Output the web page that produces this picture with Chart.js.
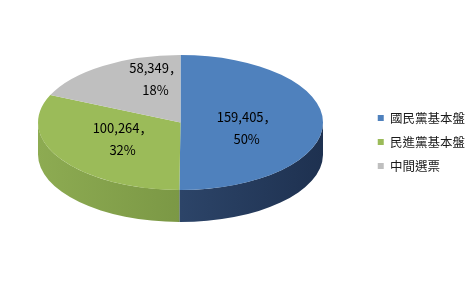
<!DOCTYPE html>
<html>
<head>
<meta charset="utf-8">
<script src="https://cdn.jsdelivr.net/npm/chart.js@4/dist/chart.umd.min.js"></script>
<style>
    html, body { margin: 0; padding: 0; background: #ffffff; }
    canvas { display: block; }
</style>
</head>
<body>
<canvas id="voteChart" width="475" height="284"></canvas>
<script>
// Data
const categories = ["國民黨基本盤", "民進黨基本盤", "中間選票"];
const votes = [159405, 100264, 58349];

// Colors: top face, and side wall gradient (left, middle, right of the pie)
const topColors = ["#4f81bd", "#9bbb59", "#bfbfbf"];
const sideColors = [
    ["#3a5a8a", "#2c4468", "#1e3150"], // blue
    ["#8dab52", "#7b9845", "#5d722f"], // green
    ["#a6a6a6", "#8c8c8c", "#7a7a7a"], // gray (hidden at the back)
];

const total = votes.reduce((a, b) => a + b, 0);
const percents = votes.map((v) => Math.round((v / total) * 100));

const LABEL_FONT = '13px "Noto Sans CJK JP", "Noto Sans", sans-serif';

// Fake 3D pie: squash the library's pie into an ellipse and add side walls
const pie3d = {
    id: "pie3d",
    beforeDatasetsDraw(chart, args, opts) {
        const ctx = chart.ctx;
        const arcs = chart.getDatasetMeta(0).data;
        const { cx, cy, rx, ry, depth } = opts;
        // side walls (only the front half is visible)
        arcs.forEach((arc, i) => {
            const s = arc.startAngle;
            const e = arc.endAngle;
            for (let k = -1; k <= 2; k++) {
                const lo = Math.max(s, 2 * Math.PI * k);
                const hi = Math.min(e, 2 * Math.PI * k + Math.PI);
                if (hi <= lo) continue;
                const grad = ctx.createLinearGradient(cx - rx, 0, cx + rx, 0);
                grad.addColorStop(0, sideColors[i][0]);
                grad.addColorStop(0.5, sideColors[i][1]);
                grad.addColorStop(1, sideColors[i][2]);
                ctx.save();
                ctx.beginPath();
                ctx.ellipse(cx, cy, rx, ry, 0, lo, hi);
                ctx.ellipse(cx, cy + depth, rx, ry, 0, hi, lo, true);
                ctx.closePath();
                ctx.fillStyle = grad;
                ctx.fill();
                ctx.restore();
            }
        });
        // squash the top face
        const a0 = arcs[0];
        ctx.save();
        ctx.translate(cx, cy);
        ctx.scale(rx / a0.outerRadius, ry / a0.outerRadius);
        ctx.translate(-a0.x, -a0.y);
    },
    afterDatasetsDraw(chart, args, opts) {
        const ctx = chart.ctx;
        ctx.restore();
        const arcs = chart.getDatasetMeta(0).data;
        const { cx, cy, rx, ry, labelRadius, nudge } = opts;
        ctx.save();
        ctx.font = LABEL_FONT;
        ctx.fillStyle = "#000000";
        ctx.textAlign = "center";
        ctx.textBaseline = "middle";
        arcs.forEach((arc, i) => {
            const mid = (arc.startAngle + arc.endAngle) / 2;
            const x = cx + labelRadius * rx * Math.cos(mid) + nudge[i][0];
            const y = cy + labelRadius * ry * Math.sin(mid) + nudge[i][1];
            ctx.fillText(votes[i].toLocaleString("en-US") + "，", x, y - 11);
            ctx.fillText(percents[i] + "%", x, y + 11);
        });
        ctx.restore();
    },
};

const ctx = document.getElementById("voteChart").getContext("2d");
const voteChart = new Chart(ctx, {
    type: "pie",
    data: {
        labels: categories,
        datasets: [
            {
                data: votes,
                backgroundColor: topColors,
                borderWidth: 0,
            },
        ],
    },
    plugins: [pie3d],
    options: {
        responsive: false,
        animation: false,
        events: [],
        layout: { padding: 0 },
        plugins: {
            tooltip: { enabled: false },
            legend: {
                position: "right",
                labels: {
                    boxWidth: 6,
                    boxHeight: 6,
                    padding: 11.5,
                    color: "#1a1a1a",
                    font: { size: 12.5, family: '"Noto Sans CJK TC", sans-serif' },
                },
            },
            pie3d: {
                cx: 180.5,
                cy: 122.5,
                rx: 142.5,
                ry: 67.5,
                depth: 32,
                labelRadius: 0.45,
                nudge: [[2, 5], [-4, 0], [10, -18]],
            },
        },
    },
});
</script>
</body>
</html>
